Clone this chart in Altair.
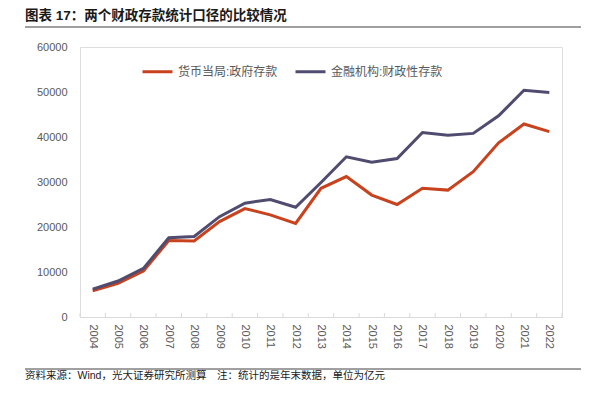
import altair as alt
import pandas as pd

years = [str(y) for y in range(2004, 2023)]
pboc = [5800, 7500, 10200, 17000, 16900, 21200, 24100, 22700, 20800, 28600,
        31200, 27100, 25000, 28600, 28200, 32300, 38700, 42900, 41200]
fin = [6200, 8000, 10800, 17600, 17900, 22300, 25300, 26100, 24400, 29900,
       35600, 34400, 35200, 41000, 40400, 40800, 44700, 50400, 49900]
series = ["货币当局:政府存款", "金融机构:财政性存款"]
colors = ["#C8421E", "#4F4C70"]
title_text = "图表 17：两个财政存款统计口径的比较情况"
footer_text = "资料来源：Wind，光大证券研究所测算\u3000注：统计的是年末数据，单位为亿元"

rows = []
for i, y in enumerate(years):
    rows.append({"year": y, "series": series[0], "value": pboc[i]})
    rows.append({"year": y, "series": series[1], "value": fin[i]})
df = pd.DataFrame(rows)

FONT = "Liberation Sans, Noto Sans CJK SC"
W, H = 482, 270

xscale = alt.Scale(type="band", domain=years, paddingInner=0, paddingOuter=0)

lines = alt.Chart(df).mark_line(strokeWidth=3).encode(
    x=alt.X("year:O", scale=xscale, sort=years,
            axis=alt.Axis(title=None, labelAngle=90, labelAlign="left", labelBaseline="middle",
                          labelFontSize=11, labelColor="#595959", labelPadding=7,
                          ticks=False, domainColor="#D9D9D9", labelFont=FONT)),
    y=alt.Y("value:Q", scale=alt.Scale(domain=[0, 60000]),
            axis=alt.Axis(title=None, values=[0, 10000, 20000, 30000, 40000, 50000, 60000],
                          format="d", grid=False, domain=False, ticks=False,
                          labelFontSize=11, labelColor="#595959", labelPadding=13,
                          labelFont=FONT)),
    color=alt.Color("series:N", scale=alt.Scale(domain=series, range=colors),
                    legend=alt.Legend(orient="none", legendX=61, legendY=8,
                                      direction="horizontal", title=None,
                                      symbolType="stroke", symbolSize=900,
                                      symbolStrokeWidth=3, labelFontSize=12,
                                      labelColor="#595959", columnPadding=11,
                                      labelOffset=4, labelFont=FONT)),
)

tick_df = pd.DataFrame({"year": years})
ticks_a = alt.Chart(tick_df).mark_rule(color="#D9D9D9", strokeWidth=1).encode(
    x=alt.X("year:O", scale=xscale, bandPosition=0),
    y=alt.value(H), y2=alt.value(H - 4),
)
ticks_b = alt.Chart(pd.DataFrame({"year": [years[-1]]})).mark_rule(
    color="#D9D9D9", strokeWidth=1).encode(
    x=alt.X("year:O", scale=xscale, bandPosition=1),
    y=alt.value(H), y2=alt.value(H - 4),
)

title = alt.Chart(pd.DataFrame({"t": [title_text]})).mark_text(
    align="left", baseline="middle", fontSize=13.5, fontWeight="bold",
    color="#1a1a1a", font=FONT).encode(
    text="t:N", x=alt.value(-55), y=alt.value(-31))
title_line = alt.Chart(pd.DataFrame({"a": [0]})).mark_rule(
    color="#404040", strokeWidth=1).encode(
    x=alt.value(-55), x2=alt.value(501), y=alt.value(-20))
footer_line = alt.Chart(pd.DataFrame({"a": [0]})).mark_rule(
    color="#404040", strokeWidth=1).encode(
    x=alt.value(-55), x2=alt.value(501), y=alt.value(322))
footer = alt.Chart(pd.DataFrame({"t": [footer_text]})).mark_text(
    align="left", baseline="middle", fontSize=10.5, color="#1a1a1a", font=FONT).encode(
    text="t:N", x=alt.value(-55), y=alt.value(329))

chart = alt.layer(ticks_a, ticks_b, lines, title, title_line, footer_line, footer).properties(
    width=W, height=H,
    autosize=alt.AutoSizeParams(type="none"),
    padding={"left": 72, "top": 39, "right": 20, "bottom": 65},
).configure_view(stroke=None).configure(font=FONT)

chart.save("out.html", embed_options={"renderer": "svg", "actions": False})
